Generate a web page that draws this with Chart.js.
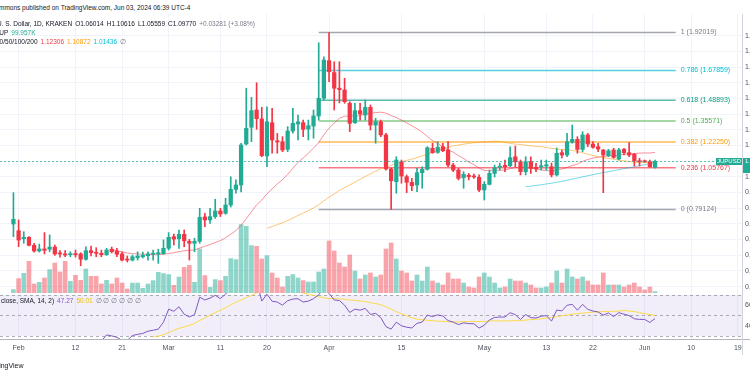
<!DOCTYPE html>
<html>
<head>
<meta charset="utf-8">
<script src="https://cdn.jsdelivr.net/npm/chart.js@4.4.1/dist/chart.umd.min.js"></script>
<style>
  html, body { margin: 0; padding: 0; width: 750px; height: 375px; overflow: hidden; background: #fff; font-family: "Liberation Sans", Arial, sans-serif; }
  canvas { position: absolute; left: 0; }
  #main { top: 14px; }
  #rsi { top: 293px; }
  .t { position: absolute; white-space: nowrap; font-size: 6.5px; line-height: 8px; color: #131722; }
  .t span { margin-left: 3px; }
</style>
</head>
<body>
<canvas id="main" width="750" height="279"></canvas>
<canvas id="rsi" width="750" height="62"></canvas>

<div class="t" style="left:-1px;top:4px">mmons published on TradingView.com, Jun 03, 2024 06:39 UTC-4</div>
<div class="t" style="left:-3px;top:20px">U. S. Dollar, 1D, KRAKEN<span>O1.06014</span><span>H1.10616</span><span>L1.05559</span><span>C1.09770</span><span style="color:#787b86">+0.03281 (+3.08%)</span></div>
<div class="t" style="left:-4px;top:29px">JUP<span style="color:#22ab94">99.957K</span></div>
<div class="t" style="left:-4px;top:38px">20/50/100/200<span style="color:#f23645">1.12306</span><span style="color:#ff9800">1.10872</span><span style="color:#00bcd4">1.01436</span><span style="color:#787b86">∅</span></div>
<div class="t" style="left:1px;top:297px">close, SMA, 14, 2)<span style="color:#7e57c2">47.27</span><span style="color:#e8c400">50.01</span><span style="color:#787b86">∅ ∅ ∅ ∅ ∅ ∅</span></div>
<div class="t" style="left:-15px;top:362px;font-size:7px">TradingView</div>

<script>
// JUPUSD daily, first candle Jan 31 2024 (day -1 counted from Feb 1)
const dayOffset = -1;

const open = [
  0.699, 0.656, 0.605, 0.614, 0.563, 0.527, 0.540, 0.538, 0.552, 0.514,
  0.508, 0.503, 0.510, 0.508, 0.474, 0.529, 0.518, 0.512, 0.503, 0.538,
  0.527, 0.508, 0.474, 0.469, 0.484, 0.490, 0.497, 0.506, 0.508, 0.510,
  0.544, 0.618, 0.605, 0.633, 0.589, 0.576, 0.589, 0.744, 0.725, 0.746,
  0.782, 0.767, 0.820, 0.920, 0.948, 1.209, 1.316, 1.426, 1.369, 1.133,
  1.345, 1.230, 1.224, 1.175, 1.292, 1.337, 1.345, 1.305, 1.324, 1.388,
  1.501, 1.741, 1.665, 1.565, 1.554, 1.469, 1.345, 1.422, 1.394, 1.443,
  1.330, 1.351, 1.267, 1.050, 0.969, 1.096, 1.001, 0.965, 0.948, 1.026,
  1.048, 1.182, 1.156, 1.192, 1.171, 1.075, 1.043, 0.994, 1.010, 1.005,
  0.997, 0.916, 0.952, 1.022, 1.061, 1.073, 1.071, 1.128, 1.096, 1.033,
  1.096, 1.061, 1.063, 1.069, 1.064, 1.012, 1.154, 1.139, 1.220, 1.239,
  1.175, 1.267, 1.209, 1.192, 1.171, 1.135, 1.171, 1.114, 1.175, 1.154,
  1.144, 1.103, 1.101, 1.096, 1.06014
];
const high = [
  0.899, 0.725, 0.650, 0.618, 0.576, 0.571, 0.644, 0.629, 0.565, 0.529,
  0.529, 0.522, 0.533, 0.516, 0.554, 0.559, 0.548, 0.533, 0.544, 0.552,
  0.544, 0.522, 0.495, 0.501, 0.522, 0.520, 0.522, 0.533, 0.538, 0.597,
  0.644, 0.635, 0.661, 0.661, 0.601, 0.608, 0.799, 0.767, 0.799, 0.857,
  0.799, 0.863, 1.000, 0.980, 1.214, 1.565, 1.507, 1.600, 1.443, 1.447,
  1.437, 1.277, 1.256, 1.320, 1.437, 1.394, 1.362, 1.362, 1.426, 1.855,
  1.766, 1.92019, 1.734, 1.734, 1.628, 1.479, 1.469, 1.469, 1.490, 1.458,
  1.373, 1.362, 1.277, 1.056, 1.128, 1.107, 1.012, 0.990, 1.054, 1.064,
  1.192, 1.214, 1.224, 1.214, 1.224, 1.086, 1.054, 1.033, 1.022, 1.018,
  1.012, 0.969, 1.043, 1.075, 1.088, 1.107, 1.192, 1.196, 1.107, 1.128,
  1.128, 1.086, 1.107, 1.107, 1.088, 1.184, 1.171, 1.277, 1.330, 1.256,
  1.288, 1.277, 1.224, 1.214, 1.175, 1.175, 1.182, 1.182, 1.182, 1.218,
  1.150, 1.118, 1.107, 1.107, 1.10616
];
const low = [
  0.618, 0.554, 0.576, 0.559, 0.520, 0.520, 0.508, 0.522, 0.499, 0.487,
  0.490, 0.490, 0.488, 0.433, 0.469, 0.495, 0.490, 0.490, 0.499, 0.514,
  0.490, 0.463, 0.457, 0.463, 0.469, 0.482, 0.469, 0.469, 0.448, 0.506,
  0.533, 0.565, 0.544, 0.554, 0.469, 0.522, 0.576, 0.682, 0.703, 0.735,
  0.746, 0.761, 0.807, 0.895, 0.903, 1.203, 1.224, 1.303, 1.128, 1.064,
  1.150, 1.150, 1.160, 1.160, 1.278, 1.235, 1.256, 1.235, 1.246, 1.362,
  1.490, 1.607, 1.426, 1.471, 1.469, 1.288, 1.341, 1.362, 1.362, 1.298,
  1.214, 1.256, 1.043, 0.79124, 0.895, 0.959, 0.899, 0.911, 0.905, 0.927,
  1.043, 1.150, 1.150, 1.160, 1.064, 1.033, 0.980, 0.927, 0.980, 0.990,
  0.905, 0.852, 0.948, 0.999, 1.043, 1.033, 1.064, 1.064, 1.012, 1.012,
  1.022, 1.033, 1.043, 1.043, 0.999, 1.005, 1.120, 1.128, 1.214, 1.150,
  1.160, 1.192, 1.182, 1.160, 0.899, 1.128, 1.118, 1.107, 1.139, 1.128,
  1.069, 1.069, 1.091, 1.061, 1.05559
];
const close = [
  0.729, 0.597, 0.614, 0.563, 0.527, 0.540, 0.531, 0.552, 0.508, 0.508,
  0.501, 0.510, 0.503, 0.474, 0.529, 0.516, 0.512, 0.503, 0.533, 0.522,
  0.506, 0.469, 0.469, 0.490, 0.495, 0.499, 0.508, 0.512, 0.516, 0.544,
  0.614, 0.603, 0.633, 0.592, 0.576, 0.589, 0.742, 0.725, 0.746, 0.782,
  0.763, 0.820, 0.920, 0.948, 1.203, 1.309, 1.422, 1.371, 1.135, 1.351,
  1.235, 1.222, 1.171, 1.292, 1.341, 1.351, 1.303, 1.326, 1.388, 1.501,
  1.745, 1.670, 1.565, 1.556, 1.479, 1.341, 1.422, 1.401, 1.443, 1.330,
  1.351, 1.267, 1.050, 0.975, 1.107, 1.005, 0.965, 0.943, 1.026, 1.048,
  1.186, 1.154, 1.188, 1.166, 1.075, 1.043, 0.990, 1.016, 1.001, 0.999,
  0.916, 0.952, 1.022, 1.058, 1.064, 1.064, 1.122, 1.096, 1.033, 1.096,
  1.054, 1.050, 1.071, 1.077, 1.012, 1.150, 1.139, 1.224, 1.239, 1.175,
  1.267, 1.209, 1.188, 1.177, 1.139, 1.166, 1.124, 1.171, 1.154, 1.139,
  1.103, 1.096, 1.096, 1.064, 1.0977
];
// volume, thousands of JUP
const volume = [
  238, 1008, 1379, 2219, 630, 749, 1050, 1638, 2100, 1470,
  2219, 819, 1239, 889, 1680, 1169, 1169, 630, 889, 630,
  1050, 700, 280, 700, 700, 329, 630, 868, 1449, 1358,
  1288, 539, 1120, 1799, 1939, 749, 3080, 1218, 399, 938,
  868, 1169, 2408, 2338, 4788, 4669, 3318, 3269, 2380, 2618,
  1400, 1050, 420, 1169, 1288, 1050, 868, 770, 770, 1470,
  1680, 3640, 2940, 2100, 1820, 2660, 1540, 980, 1260, 1400,
  1120, 1260, 3080, 3500, 2380, 1540, 1400, 840, 1260, 840,
  1820, 840, 700, 560, 1400, 980, 980, 700, 420, 350,
  1120, 1400, 1120, 700, 350, 420, 980, 840, 840, 700,
  560, 350, 350, 420, 700, 1540, 700, 1680, 1120, 980,
  1120, 840, 560, 560, 1400, 560, 560, 560, 420, 560,
  700, 420, 210, 420, 100
];

const timeTickDays = [0, 11, 20, 29, 39, 48, 60, 74, 90, 102, 111, 121, 130, 139];
const timeTickLabels = ['Feb', '12', '21', 'Mar', '11', '20', 'Apr', '15', 'May', '13', '22', 'Jun', '10', '19'];
const priceTicks = [0.3, 0.4, 0.5, 0.6, 0.7, 0.8, 0.9, 1.0, 1.1, 1.2, 1.3, 1.4, 1.5, 1.6, 1.7, 1.8, 1.9];
const rsiTicks = [40, 60];

const fibRatios = ['1', '0.786', '0.618', '0.5', '0.382', '0.236', '0'];
const fibPrices = [1.92019, 1.67859, 1.48893, 1.35571, 1.22250, 1.05767, 0.79124];
const fibStartDay = 58;
const fibEndDay = 127;

// styles
const fibColors = ['#787b86', '#00bcd4', '#089981', '#4caf50', '#ff9800', '#f23645', '#787b86'];
const upColor = '#22ab94';
const downColor = '#f23645';
const gridColor = '#f0f3fa';
const textColor = '#4c525e';
const xMin = -3.595, xMax = 139.81;

const xs = close.map((_, i) => i + dayOffset);
const isUp = close.map((c, i) => c >= open[i]);

function sma(src, n) {
  return src.map((_, i) => {
    if (i < n - 1) return null;
    let s = 0;
    for (let k = i - n + 1; k <= i; k++) {
      if (src[k] == null) return null;
      s += src[k];
    }
    return s / n;
  });
}

function rsi(src, n) {
  const out = src.map(() => null);
  let g = 0, l = 0;
  for (let i = 1; i < src.length; i++) {
    const d = src[i] - src[i - 1];
    const u = Math.max(d, 0), dn = Math.max(-d, 0);
    if (i <= n) {
      g += u / n; l += dn / n;
      if (i < n) continue;
    } else {
      g = (g * (n - 1) + u) / n;
      l = (l * (n - 1) + dn) / n;
    }
    out[i] = l === 0 ? 100 : 100 - 100 / (1 + g / l);
  }
  return out;
}

const pts = arr => arr.map((v, i) => ({ x: xs[i], y: v }));
const lineDs = (data, color, order) => ({
  type: 'line', data, borderColor: color, borderWidth: 1, pointRadius: 0, order, spanGaps: false
});
const tickSetter = list => scale => { scale.ticks = list.map(v => ({ value: v })); };

const overlay = {
  id: 'overlay',
  afterDraw(chart) {
    const { ctx, chartArea, scales: { x, y } } = chart;
    ctx.save();
    ctx.font = '7px "Liberation Sans", Arial, sans-serif';
    ctx.textBaseline = 'middle';

    // fib labels
    fibPrices.forEach((p, i) => {
      ctx.fillStyle = fibColors[i];
      ctx.textAlign = 'left';
      ctx.fillText(fibRatios[i] + ' (' + p.toFixed(5) + ')', x.getPixelForValue(fibEndDay) + 5, y.getPixelForValue(p));
    });

    // price axis
    ctx.strokeStyle = '#d1d4dc';
    ctx.lineWidth = 1;
    ctx.beginPath();
    ctx.moveTo(chartArea.right + 0.5, 0);
    ctx.lineTo(chartArea.right + 0.5, chart.height);
    ctx.stroke();
    ctx.fillStyle = textColor;
    y.ticks.forEach(t => {
      ctx.fillText(t.value.toFixed(4), chartArea.right + 3, y.getPixelForValue(t.value));
    });

    // last price line and labels
    const last = close[close.length - 1];
    const py = Math.round(y.getPixelForValue(last)) + 0.5;
    ctx.strokeStyle = 'rgba(34,171,148,0.7)';
    ctx.setLineDash([2, 2]);
    ctx.beginPath();
    ctx.moveTo(chartArea.left, py);
    ctx.lineTo(chartArea.right, py);
    ctx.stroke();
    ctx.setLineDash([]);
    ctx.fillStyle = upColor;
    ctx.fillRect(716, py - 3.5, 26, 7);
    ctx.fillRect(chartArea.right + 1, py - 3.5, 10, 15);
    ctx.fillStyle = '#fff';
    ctx.font = '6px "Liberation Sans", Arial, sans-serif';
    ctx.textAlign = 'center';
    ctx.fillText('JUPUSD', 729, py);
    ctx.textAlign = 'left';
    ctx.fillText(last.toFixed(5), chartArea.right + 3, py);
    ctx.restore();
  }
};

new Chart(document.getElementById('main'), {
  data: {
    datasets: [
      {
        type: 'bar', label: 'Volume', yAxisID: 'yv', order: 10, grouped: false,
        data: pts(volume),
        backgroundColor: isUp.map(u => u ? 'rgba(34,171,148,0.5)' : 'rgba(242,54,69,0.45)'),
        barThickness: 4
      },
      ...fibPrices.map((p, i) => ({
        type: 'line', order: 8,
        data: [{ x: fibStartDay, y: p }, { x: fibEndDay, y: p }],
        borderColor: fibColors[i] + 'aa', borderWidth: 1.5, pointRadius: 0
      })),
      lineDs(pts(sma(close, 100)), 'rgba(0,188,212,0.55)', 5),
      lineDs(pts(sma(close, 50)), 'rgba(255,152,0,0.55)', 5),
      lineDs(pts(sma(close, 20)), 'rgba(242,54,69,0.55)', 5),
      {
        type: 'bar', label: 'Wicks', order: 2, grouped: false,
        data: xs.map((d, i) => ({ x: d, y: [low[i], high[i]] })),
        backgroundColor: isUp.map(u => u ? upColor : downColor),
        barThickness: 1
      },
      {
        type: 'bar', label: 'Bodies', order: 1, grouped: false,
        data: xs.map((d, i) => ({ x: d, y: [open[i], close[i]] })),
        backgroundColor: isUp.map(u => u ? upColor : downColor),
        barThickness: 3.6, minBarLength: 1
      }
    ]
  },
  options: {
    responsive: false,
    animation: false,
    layout: { padding: 0 },
    plugins: { legend: { display: false }, tooltip: { enabled: false } },
    scales: {
      x: {
        type: 'linear', min: xMin, max: xMax, offset: false,
        afterBuildTicks: tickSetter(timeTickDays),
        ticks: { display: false },
        grid: { color: gridColor, drawTicks: false, offset: false },
        border: { display: false },
        afterFit: s => { s.height = 0; }
      },
      y: {
        type: 'linear', position: 'right', min: 0.25895, max: 2.03841,
        afterBuildTicks: tickSetter(priceTicks),
        ticks: { display: false },
        grid: { color: gridColor, drawTicks: false },
        border: { display: false },
        afterFit: s => { s.width = 8; }
      },
      yv: { type: 'linear', display: false, min: 0, max: 19530 }
    }
  },
  plugins: [overlay]
});

const rsiValues = rsi(close, 14);
const rsiMa = sma(rsiValues, 14);

const rsiPane = {
  id: 'rsiPane',
  beforeDatasetsDraw(chart) {
    const { ctx, chartArea, scales: { y } } = chart;
    ctx.save();
    const y70 = y.getPixelForValue(70), y30 = y.getPixelForValue(30);
    ctx.fillStyle = 'rgba(126,87,194,0.1)';
    ctx.fillRect(chartArea.left, y70, chartArea.right - chartArea.left, y30 - y70);
    ctx.strokeStyle = 'rgba(120,123,134,0.6)';
    ctx.setLineDash([3, 3]);
    ctx.lineWidth = 1;
    [70, 50, 30].forEach(v => {
      const py = Math.round(y.getPixelForValue(v)) + 0.5;
      ctx.beginPath();
      ctx.moveTo(chartArea.left, py);
      ctx.lineTo(chartArea.right, py);
      ctx.stroke();
    });
    ctx.restore();
  },
  afterDraw(chart) {
    const { ctx, chartArea, scales: { x, y } } = chart;
    ctx.save();
    ctx.strokeStyle = '#b2b5be';
    ctx.lineWidth = 1;
    ctx.beginPath();
    ctx.moveTo(0, chartArea.bottom + 0.5);
    ctx.lineTo(chart.width, chartArea.bottom + 0.5);
    ctx.stroke();
    ctx.strokeStyle = '#d1d4dc';
    ctx.beginPath();
    ctx.moveTo(chartArea.right + 0.5, 0);
    ctx.lineTo(chartArea.right + 0.5, chart.height);
    ctx.stroke();
    ctx.font = '7px "Liberation Sans", Arial, sans-serif';
    ctx.textBaseline = 'middle';
    ctx.fillStyle = textColor;
    ctx.textAlign = 'center';
    timeTickDays.forEach((d, i) => {
      ctx.fillText(timeTickLabels[i], x.getPixelForValue(d), chartArea.bottom + 9);
    });
    ctx.textAlign = 'left';
    y.ticks.forEach(t => {
      ctx.fillText(t.value.toFixed(2), chartArea.right + 3, y.getPixelForValue(t.value));
    });
    ctx.restore();
  }
};

new Chart(document.getElementById('rsi'), {
  type: 'line',
  data: {
    datasets: [
      lineDs(pts(rsiValues), '#7e57c2', 1),
      lineDs(pts(rsiMa), 'rgba(253,216,53,0.9)', 2)
    ]
  },
  options: {
    responsive: false,
    animation: false,
    layout: { padding: 0 },
    plugins: { legend: { display: false }, tooltip: { enabled: false } },
    scales: {
      x: {
        type: 'linear', min: xMin, max: xMax, offset: false,
        afterBuildTicks: tickSetter(timeTickDays),
        ticks: { display: false },
        grid: { color: gridColor, drawTicks: false },
        border: { display: false },
        afterFit: s => { s.height = 16; }
      },
      y: {
        type: 'linear', position: 'right', min: 27.07, max: 71.95,
        afterBuildTicks: tickSetter(rsiTicks),
        ticks: { display: false },
        grid: { display: false },
        border: { display: false },
        afterFit: s => { s.width = 8; }
      }
    }
  },
  plugins: [rsiPane]
});
</script>
</body>
</html>
